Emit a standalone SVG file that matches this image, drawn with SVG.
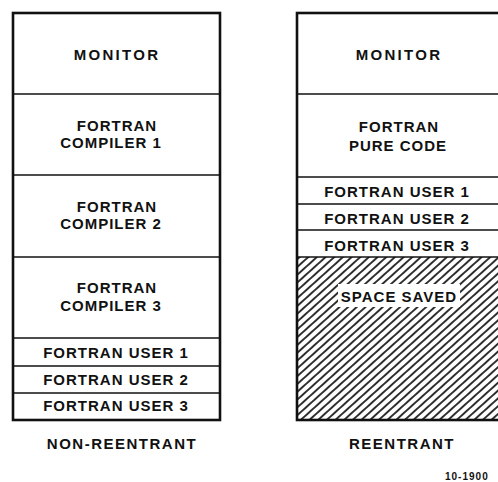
<svg xmlns="http://www.w3.org/2000/svg" width="498" height="482" viewBox="0 0 498 482">
<style>
text{font-family:"Liberation Sans",Arial,sans-serif;font-weight:bold;font-size:15px;fill:#111;text-anchor:middle;letter-spacing:1px}
.outer{fill:none;stroke:#111;stroke-width:2.6}
.div{stroke:#111;stroke-width:1.6}
.cap{font-size:15px;letter-spacing:1.5px}
.small{font-size:10px;letter-spacing:1px;text-anchor:start}
</style>
<defs>
<pattern id="hatch" patternUnits="userSpaceOnUse" width="10" height="5.8" patternTransform="rotate(-42)">
<line x1="0" y1="2.9" x2="10" y2="2.9" stroke="#111" stroke-width="1.7"/>
</pattern>
</defs>
<rect width="498" height="482" fill="#fff"/>
<g id="left-stack">
<g id="l-monitor"><text x="117" y="60" style="letter-spacing:2.3px">MONITOR</text></g>
<g id="l-comp1"><text x="117" y="131">FORTRAN</text><text x="111" y="148">COMPILER 1</text></g>
<g id="l-comp2"><text x="117" y="212">FORTRAN</text><text x="111" y="229">COMPILER 2</text></g>
<g id="l-comp3"><text x="117" y="293">FORTRAN</text><text x="111" y="311">COMPILER 3</text></g>
<g id="l-user1"><text x="116" y="358">FORTRAN USER 1</text></g>
<g id="l-user2"><text x="116" y="385">FORTRAN USER 2</text></g>
<g id="l-user3"><text x="116" y="411">FORTRAN USER 3</text></g>
<line class="div" x1="13" y1="94" x2="220" y2="94"/>
<line class="div" x1="13" y1="175" x2="220" y2="175"/>
<line class="div" x1="13" y1="257" x2="220" y2="257"/>
<line class="div" x1="13" y1="338" x2="220" y2="338"/>
<line class="div" x1="13" y1="366" x2="220" y2="366"/>
<line class="div" x1="13" y1="393" x2="220" y2="393"/>
<rect class="outer" x="13" y="13" width="207" height="407"/>
</g>
<g id="right-stack">
<rect x="297" y="257" width="206" height="163" fill="url(#hatch)"/>
<rect x="338" y="284" width="122" height="23" fill="#fff"/>
<g id="r-monitor"><text x="399" y="60" style="letter-spacing:2.3px">MONITOR</text></g>
<g id="r-pure"><text x="399" y="132">FORTRAN</text><text x="398" y="151">PURE CODE</text></g>
<g id="r-user1"><text x="397" y="197">FORTRAN USER 1</text></g>
<g id="r-user2"><text x="397" y="224">FORTRAN USER 2</text></g>
<g id="r-user3"><text x="397" y="251">FORTRAN USER 3</text></g>
<g id="r-saved"><text x="399" y="302">SPACE SAVED</text></g>
<line class="div" x1="297" y1="94" x2="503" y2="94"/>
<line class="div" x1="297" y1="177" x2="503" y2="177"/>
<line class="div" x1="297" y1="204" x2="503" y2="204"/>
<line class="div" x1="297" y1="230" x2="503" y2="230"/>
<line class="div" x1="297" y1="257" x2="503" y2="257"/>
<rect class="outer" x="297" y="13" width="206" height="407"/>
</g>
<g id="labels">
<text x="122" y="449" class="cap">NON-REENTRANT</text>
<text x="402" y="449" class="cap">REENTRANT</text>
<text x="445" y="480" class="small">10-1900</text>
</g>
</svg>
